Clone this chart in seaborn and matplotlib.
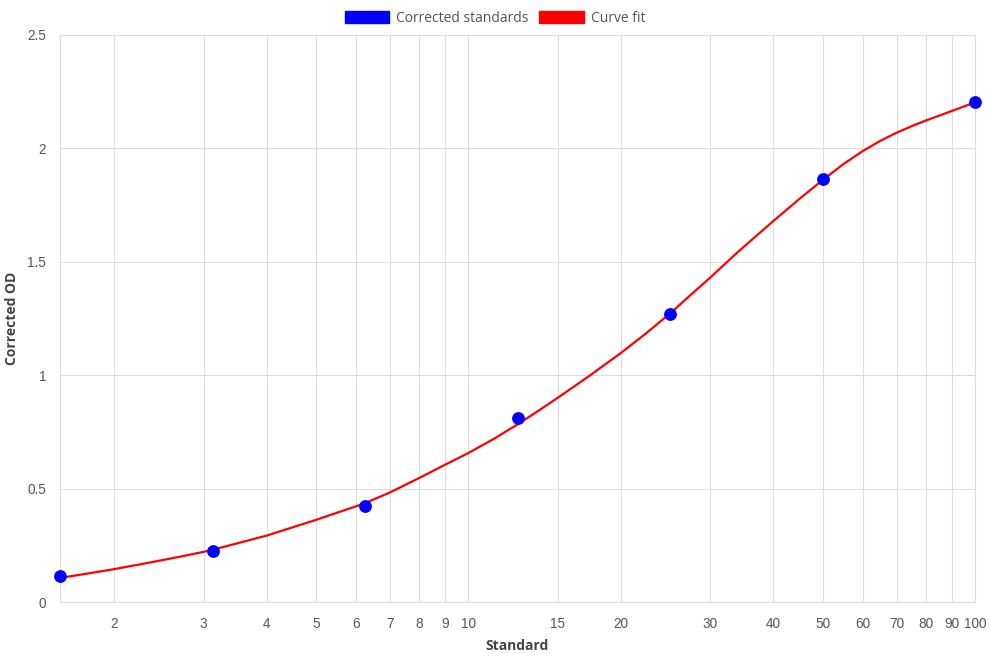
import matplotlib
matplotlib.use("Agg")
import matplotlib.pyplot as plt
import seaborn as sns
import pandas as pd
from matplotlib.patches import Patch
from matplotlib.ticker import FixedLocator, FixedFormatter, NullLocator

# Data
standards = [1.5625, 3.125, 6.25, 12.5, 25, 50, 100]
corrected_od = [0.115, 0.227, 0.425, 0.812, 1.27, 1.865, 2.205]

# curve fit
fit_x = [1.5625, 1.8, 2, 2.35, 2.7, 3, 3.125, 4, 5, 6, 6.25, 7, 8, 8.81, 10, 11.2,
         12.5, 13.7, 15, 17.3, 20, 22.4, 25, 27.4, 30, 34.1, 40, 45, 50, 55, 60, 65,
         70, 75, 80, 90, 100]
fit_y = [0.106, 0.128, 0.145, 0.174, 0.2, 0.221, 0.23, 0.293, 0.362, 0.422, 0.436,
         0.483, 0.547, 0.595, 0.657, 0.718, 0.783, 0.841, 0.90, 0.996, 1.098, 1.184,
         1.272, 1.352, 1.43, 1.545, 1.68, 1.777, 1.86, 1.931, 1.988, 2.033, 2.069,
         2.098, 2.123, 2.165, 2.203]

x_ticks = [2, 3, 4, 5, 6, 7, 8, 9, 10, 15, 20, 30, 40, 50, 60, 70, 80, 90, 100]
y_ticks = [0, 0.5, 1, 1.5, 2, 2.5]

df_pts = pd.DataFrame({"Standard": standards, "OD": corrected_od})
df_fit = pd.DataFrame({"Standard": fit_x, "OD": fit_y})

sns.set_style("white")
plt.rcParams["font.family"] = ["Liberation Sans", "DejaVu Sans"]

fig = plt.figure(figsize=(9.9, 6.6), dpi=100)
ax = fig.add_axes([60 / 990, 58 / 660, 915 / 990, 567 / 660])

grid_c = "#dddddd"
sns.lineplot(data=df_fit, x="Standard", y="OD", color="red", linewidth=1.6, ax=ax,
             zorder=3)
sns.scatterplot(data=df_pts, x="Standard", y="OD", color="blue", s=85,
                edgecolor="blue", linewidth=0, ax=ax, zorder=4, clip_on=False)

ax.set_xscale("log")
ax.set_xlim(1.5625, 100)
ax.set_ylim(0, 2.5)
ax.xaxis.set_major_locator(FixedLocator(x_ticks))
ax.xaxis.set_major_formatter(FixedFormatter([str(t) for t in x_ticks]))
ax.xaxis.set_minor_locator(NullLocator())
ax.set_yticks(y_ticks)
ax.set_yticklabels(["0", "0.5", "1", "1.5", "2", "2.5"])

ax.grid(True, color=grid_c, linewidth=0.8)
ax.set_axisbelow(True)
for s in ax.spines.values():
    s.set_color(grid_c)
    s.set_linewidth(0.8)
ax.tick_params(axis="both", length=7, color=grid_c, width=0.8, labelsize=9.8,
               labelcolor="#555555", pad=3)
ax.tick_params(axis="x", pad=4)

ax.set_xlabel("Standard", fontsize=10, fontweight="bold", color="#444444",
              family=["Open Sans", "DejaVu Sans"])
ax.set_ylabel("Corrected OD", fontsize=10, fontweight="bold", color="#444444",
              family=["Open Sans", "DejaVu Sans"])
ax.xaxis.set_label_coords(0.5, -37 / 567)
ax.yaxis.set_label_coords(-41 / 915, 0.5)

handles = [Patch(facecolor="blue", edgecolor="blue", label="Corrected standards"),
           Patch(facecolor="red", edgecolor="red", label="Curve fit")]
fig.legend(handles=handles, loc="upper center", bbox_to_anchor=(0.5, 1.003), ncol=2,
           frameon=False, handlelength=3.2, handleheight=1.0, handletextpad=0.5,
           columnspacing=0.8, prop={"family": ["Open Sans", "DejaVu Sans"], "size": 10},
           labelcolor="#555555")

fig.savefig("out.png", dpi=100)
